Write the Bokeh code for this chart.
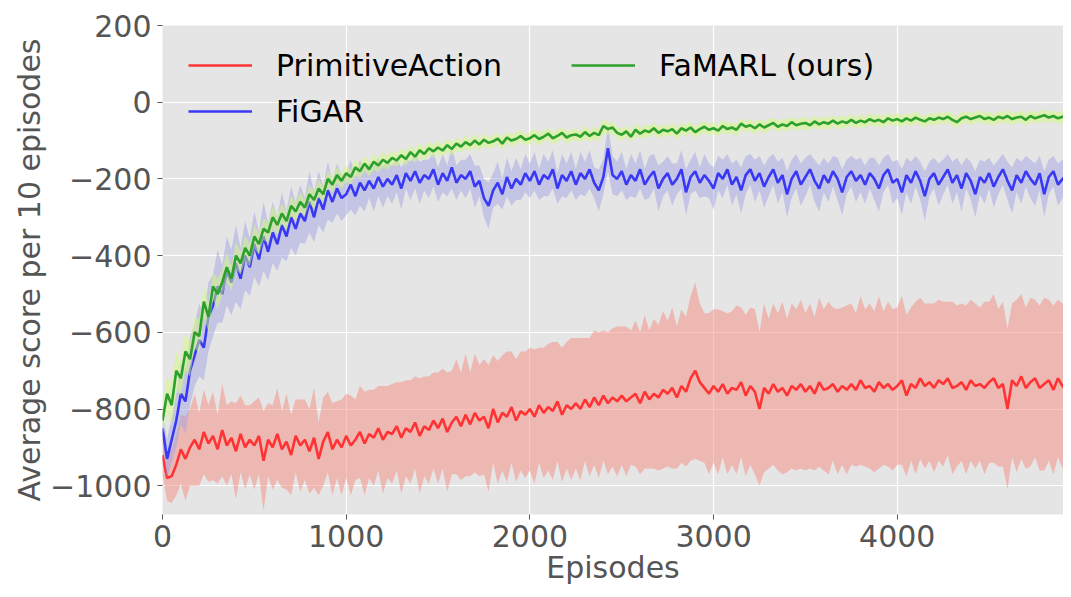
from bokeh.plotting import figure
from bokeh.models import FixedTicker, Legend, LegendItem
from bokeh.embed import file_html
from bokeh.resources import INLINE
import numpy as np

# Episodes (one sample every 25 episodes)
episodes = list(range(0, 4951, 25))

famarl_mean = [
    -830, -760, -790, -700, -720, -650, -670, -600, -610, -520,
    -560, -480, -500, -470, -430, -460, -400, -420, -380, -400,
    -350, -370, -330, -340, -300, -320, -290, -310, -270, -285,
    -260, -275, -240, -255, -225, -240, -200, -215, -190, -205,
    -185, -195, -170, -180, -160, -175, -155, -165, -150, -158,
    -145, -152, -138, -148, -130, -142, -125, -135, -120, -128,
    -118, -126, -112, -122, -108, -116, -104, -112, -100, -110,
    -98, -106, -102, -95, -108, -92, -100, -96, -88, -98,
    -94, -86, -96, -90, -82, -94, -88, -80, -92, -86,
    -84, -90, -78, -88, -80, -86, -62, -70, -66, -80,
    -85, -76, -90, -72, -82, -74, -78, -68, -80, -72,
    -76, -70, -82, -68, -74, -66, -78, -70, -64, -72,
    -68, -74, -62, -70, -66, -72, -56, -64, -60, -68,
    -58, -66, -60, -54, -64, -58, -62, -52, -60, -56,
    -54, -60, -50, -58, -52, -56, -48, -56, -50, -54,
    -46, -54, -48, -52, -44, -50, -46, -52, -42, -48,
    -44, -50, -42, -48, -40, -46, -50, -42, -46, -40,
    -44, -38, -46, -52, -42, -38, -44, -40, -36, -44,
    -40, -46, -38, -42, -36, -44, -40, -38, -46, -36,
    -42, -38, -34, -40, -36, -42, -38, -34, -40,
]
famarl_sd = [
    40, 45, 55, 50, 45, 50, 45, 40, 45, 40,
    40, 35, 40, 35, 38, 32, 36, 30, 34, 30,
    32, 28, 30, 26, 30, 25, 28, 24, 27, 24,
    26, 22, 25, 22, 24, 21, 23, 20, 22, 20,
    21, 19, 22, 18, 20, 18, 21, 17, 20, 18,
    19, 16, 20, 17, 18, 16, 19, 15, 18, 16,
    17, 15, 18, 16, 17, 14, 18, 15, 17, 15,
    16, 14, 17, 15, 16, 14, 17, 15, 16, 14,
    16, 15, 17, 14, 16, 15, 17, 14, 16, 15,
    15, 14, 16, 15, 17, 14, 18, 16, 15, 14,
    16, 14, 15, 17, 14, 16, 15, 14, 16, 15,
    14, 16, 15, 14, 16, 15, 14, 16, 15, 14,
    15, 14, 16, 15, 14, 16, 15, 14, 15, 16,
    14, 15, 16, 14, 15, 14, 16, 15, 14, 15,
    16, 14, 15, 14, 16, 15, 14, 15, 16, 14,
    15, 14, 16, 15, 14, 15, 16, 14, 15, 14,
    16, 15, 14, 15, 16, 14, 15, 14, 16, 15,
    14, 15, 16, 14, 15, 14, 16, 15, 14, 15,
    16, 14, 15, 14, 16, 15, 14, 15, 16, 14,
    15, 14, 16, 15, 14, 15, 16, 14, 15,
]

figar_mean = [
    -850, -930, -880, -830, -760, -780, -700, -660, -620, -640,
    -560, -530, -480, -500, -440, -470, -420, -460, -400, -430,
    -370, -410, -350, -390, -340, -370, -320, -350, -300, -330,
    -290, -310, -260, -300, -250, -280, -230, -260, -225, -250,
    -240, -215, -245, -210, -230, -205, -225, -195, -220, -200,
    -215, -190, -225, -185, -205, -180, -210, -190, -200, -175,
    -215, -185, -205, -170, -210, -190, -200, -180, -220, -205,
    -250, -270, -230, -210, -240, -195, -225, -200, -215, -185,
    -205, -180, -215, -190, -200, -175, -225, -190, -205, -180,
    -215, -185, -200, -175, -210, -230, -195, -120, -190, -200,
    -180, -215, -190, -205, -175, -215, -195, -180, -225, -200,
    -185, -215, -200, -175, -235, -195, -180, -210, -190, -205,
    -225, -185, -200, -175, -215, -195, -230, -190, -175, -205,
    -185, -220, -195, -175, -210, -190, -240, -200, -180, -215,
    -195, -175, -205, -225, -190, -210, -180, -200, -235, -195,
    -180, -205, -190, -215, -185, -200, -225, -190, -175, -210,
    -200, -235, -190, -210, -180, -205, -245, -200, -185, -215,
    -195, -175, -210, -190, -225, -185, -205, -240, -195, -210,
    -185, -220, -195, -175, -205, -230, -190, -210, -180, -200,
    -215, -185, -240, -195, -180, -215, -200, -190, -210,
]
figar_sd = [
    40, 50, 60, 70, 80, 85, 90, 80, 95, 85,
    90, 80, 95, 75, 90, 85, 100, 80, 90, 75,
    85, 70, 90, 75, 80, 70, 85, 65, 80, 70,
    75, 60, 80, 65, 70, 60, 75, 55, 65, 60,
    55, 65, 50, 60, 55, 45, 60, 50, 55, 45,
    50, 45, 55, 40, 50, 45, 55, 40, 50, 45,
    45, 50, 40, 55, 45, 40, 50, 45, 55, 40,
    50, 60, 45, 55, 40, 50, 45, 55, 40, 50,
    45, 50, 40, 55, 45, 50, 40, 55, 45, 50,
    40, 55, 45, 50, 40, 55, 45, 60, 50, 45,
    50, 40, 55, 45, 50, 40, 55, 45, 60, 45,
    45, 55, 40, 50, 60, 45, 50, 40, 55, 45,
    55, 45, 50, 40, 55, 45, 60, 50, 40, 55,
    45, 55, 50, 40, 55, 45, 60, 50, 45, 55,
    50, 40, 55, 60, 45, 50, 40, 55, 60, 45,
    40, 55, 45, 50, 40, 55, 60, 45, 40, 55,
    50, 60, 45, 55, 40, 50, 65, 45, 40, 55,
    45, 40, 55, 45, 60, 40, 50, 60, 45, 55,
    40, 55, 45, 40, 50, 60, 45, 55, 40, 50,
    55, 45, 60, 45, 40, 55, 50, 45, 55,
]

primitive_mean = [
    -920, -980, -975, -945, -905, -930, -900, -880, -905, -860,
    -890, -870, -905, -855, -895, -875, -910, -865, -900, -880,
    -895, -870, -935, -880, -900, -865, -905, -885, -920, -870,
    -895, -880, -910, -875, -930, -885, -860, -905, -880, -900,
    -870, -895, -880, -860, -890, -865, -875, -850, -880, -860,
    -865, -845, -875, -850, -860, -835, -870, -845, -855, -830,
    -850, -825, -860, -835, -820, -845, -815, -840, -810, -830,
    -820, -850, -800, -835, -810, -820, -795, -830, -805, -815,
    -800, -820, -790, -810, -795, -805, -780, -815, -790, -800,
    -785, -800, -775, -795, -770, -790, -765, -785, -770, -780,
    -765, -780, -770, -760, -785, -755, -775, -760, -770, -750,
    -760, -745, -770, -740, -755, -720, -700, -730, -745, -760,
    -740, -755, -735, -760, -745, -750, -730, -765, -740, -755,
    -800, -745, -760, -735, -755, -745, -765, -740, -750, -735,
    -755, -740, -760, -730, -750, -745, -735, -755, -740, -750,
    -735, -750, -725, -745, -740, -755, -730, -745, -735, -750,
    -740, -725, -765, -735, -745, -720, -740, -730, -745, -725,
    -735, -720, -745, -740, -730, -750, -725, -740, -735, -745,
    -730, -720, -745, -735, -800, -725, -740, -715, -745, -730,
    -720, -745, -735, -725, -750, -720, -740, -755, -770,
]
primitive_sd = [
    50, 60, 70, 80, 90, 110, 100, 120, 95, 110,
    100, 115, 90, 120, 105, 95, 125, 100, 110, 90,
    115, 100, 130, 95, 110, 120, 100, 125, 105, 95,
    120, 105, 110, 130, 95, 115, 105, 120, 100, 125,
    110, 130, 105, 120, 135, 115, 125, 110, 140, 120,
    130, 115, 145, 125, 135, 120, 150, 130, 140, 125,
    145, 130, 155, 135, 150, 140, 160, 135, 155, 145,
    150, 165, 140, 160, 150, 170, 145, 160, 155, 165,
    160, 175, 150, 170, 165, 180, 155, 175, 165, 185,
    170, 185, 160, 180, 175, 190, 170, 185, 180, 195,
    180, 195, 175, 190, 185, 200, 180, 195, 190, 205,
    190, 210, 185, 200, 195, 215, 230, 205, 195, 210,
    200, 215, 190, 210, 200, 220, 195, 210, 205, 215,
    200, 220, 195, 210, 205, 225, 200, 215, 210, 220,
    205, 215, 200, 220, 210, 225, 200, 215, 205, 220,
    210, 200, 220, 205, 215, 210, 225, 200, 215, 210,
    205, 220, 210, 200, 225, 210, 215, 205, 220, 210,
    215, 200, 225, 210, 205, 220, 210, 215, 200, 225,
    210, 220, 205, 215, 210, 200, 225, 215, 210, 220,
    205, 215, 225, 210, 220, 205, 215, 210, 220,
]

series_names = ["PrimitiveAction", "FiGAR", "FaMARL (ours)"]
x_ticks = [0, 1000, 2000, 3000, 4000]
y_ticks = [200, 0, -200, -400, -600, -800, -1000]

FONT = "DejaVu Sans"

p = figure(width=1063, height=589, output_backend="svg", toolbar_location=None,
           x_range=(0, 4905), y_range=(-1075, 200),
           min_border_left=162, min_border_right=0, min_border_top=25, min_border_bottom=75)
p.background_fill_color = "#E5E5E5"
p.border_fill_color = "white"
p.outline_line_color = None
p.grid.grid_line_color = "white"
p.grid.grid_line_width = 1.2

for ax in (p.xaxis[0], p.yaxis[0]):
    ax.axis_line_color = None
    ax.major_tick_line_color = "#555555"
    ax.major_tick_out = 5
    ax.major_tick_in = 0
    ax.minor_tick_line_color = None
    ax.major_label_text_font = FONT
    ax.major_label_text_font_size = "30px"
    ax.major_label_text_color = "#555555"
    ax.axis_label_text_font = FONT
    ax.axis_label_text_font_size = "30px"
    ax.axis_label_text_color = "#555555"
    ax.axis_label_text_font_style = "normal"

p.xaxis.ticker = FixedTicker(ticks=x_ticks)
p.yaxis.ticker = FixedTicker(ticks=y_ticks)
p.yaxis.major_label_overrides = {t: (str(t).replace("-", "\u2212")) for t in y_ticks}
p.xaxis.axis_label = "Episodes"
p.yaxis.axis_label = "Average score per 10 episodes"
p.xaxis.major_label_standoff = 5
p.yaxis.major_label_standoff = 6
p.xaxis.axis_label_standoff = 0
p.yaxis.axis_label_standoff = 0

x = np.array(episodes)
specs = [
    (primitive_mean, primitive_sd, "#FF3333", "#F5897F"),
    (figar_mean, figar_sd, "#3838F5", "#A3A3E3"),
    (famarl_mean, famarl_sd, "#2CA02C", "#D3FB7B"),
]
renderers = []
for mean, sd, lc, fc in specs:
    m = np.array(mean, dtype=float)
    s = np.array(sd, dtype=float)
    p.varea(x=x, y1=m - s, y2=m + s, fill_color=fc, fill_alpha=0.5)
    r = p.line(x, m, line_color=lc, line_width=2.6)
    renderers.append(r)

FRAME_H = 589 - 25 - 75

def make_legend(items, left, top):
    lg = Legend(items=items, orientation="vertical")
    lg.background_fill_alpha = 0
    lg.border_line_alpha = 0
    lg.label_text_font = FONT
    lg.label_text_font_size = "30px"
    lg.label_text_color = "black"
    lg.glyph_width = 64
    lg.glyph_height = 40
    lg.label_height = 40
    lg.label_standoff = 24
    lg.spacing = 6
    lg.padding = 0
    lg.margin = 0
    n = len(items)
    h = n * 40 + (n - 1) * 6
    lg.location = (left, FRAME_H - top - h)
    return lg

leg1 = make_legend([LegendItem(label=series_names[0], renderers=[renderers[0]]),
                    LegendItem(label=series_names[1], renderers=[renderers[1]])], 26, 20)
leg2 = make_legend([LegendItem(label=series_names[2], renderers=[renderers[2]])], 409, 20)
p.add_layout(leg1, "center")
p.add_layout(leg2, "center")

open("out.html", "w").write(file_html(p, INLINE))
